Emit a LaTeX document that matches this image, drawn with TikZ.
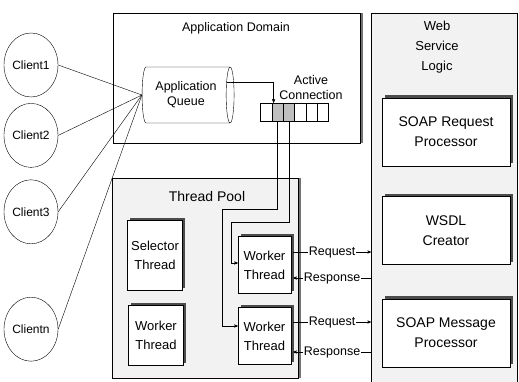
\documentclass[tikz,border=0pt]{standalone}
\usepackage{fontspec}
\setmainfont{Liberation Sans}
\usetikzlibrary{arrows,shapes.geometric,shadows,positioning}

\begin{document}
\begin{tikzpicture}[>=stealth',x=1pt,y=-1pt,
	every node/.style={font=\fontsize{12.5}{15}\selectfont,align=center,inner sep=0pt},
	client/.style={draw,ellipse,minimum width=54pt,minimum height=64pt,font=\fontsize{12}{14}\selectfont},
	area/.style={draw,anchor=north west,fill=white},
	edgeshade/.style={drop shadow={shadow xshift=3pt,shadow yshift=0pt,fill=black!55,opacity=1}},
	thread/.style={draw,fill=white,minimum width=53pt,minimum height=57pt,font=\fontsize{13}{19}\selectfont,
		drop shadow={shadow xshift=2.5pt,shadow yshift=2.5pt,fill=black!70,opacity=1}},
	proc/.style={draw,fill=white,minimum width=128pt,minimum height=68pt,font=\fontsize{14}{20}\selectfont,
		drop shadow={shadow xshift=2.5pt,shadow yshift=2.5pt,fill=black!70,opacity=1}},
	slot/.style={draw,minimum width=11.3pt,minimum height=18pt},
	lbl/.style={fill=white,inner sep=1pt}]

\useasboundingbox (0,0) rectangle (519,382);

\node[area,edgeshade,minimum width=247pt,minimum height=130pt] (appdom) at (113,13) {};
	\node (appdomlbl) at (236,28) {Application Domain};
\node[area,edgeshade,fill=black!5,minimum width=186pt,minimum height=200pt] (pool) at (112,178) {};
	\node (poollbl) at (207,196) [font=\fontsize{14}{17}\selectfont] {Thread Pool};
\node[area,fill=black!5,minimum width=146pt,minimum height=375pt] (wsl) at (371,13) {};
	\node (wsllbl) at (437,47) [font=\fontsize{13}{20}\selectfont] {Web\\Service\\Logic};

\node[client] (c1) at (31,65) {Client1};
 \node[client] (c2) [below=6pt of c1] {Client2};
	\node[client] (c3) [below=12pt of c2] {Client3};
	\node[client] (cn) [below=53pt of c3] {Clientn};

\node[draw,cylinder,shape border rotate=0,shape aspect=0.3,minimum width=56pt,minimum height=92pt,fill=white] (queue) at (186,95) {Application\\Queue};

\node (actlbl) at (311,88) {Active\\Connection};
\foreach \i/\f in {1/white,2/black!25,3/black!25,4/white,5/white,6/white}
	\node[slot,fill=\f] (s\i) at ({255+11.3*\i},112) {};

\node[thread,minimum width=55pt,minimum height=70pt] (sel) at (155,255) {Selector\\Thread};
\node[thread,minimum width=55pt,minimum height=60pt] (wk0) at (156,335) {Worker\\Thread};
	\node[thread] (wk1) at (264.5,265) {Worker\\Thread};
	\node[thread] (wk2) at (264.5,336) {Worker\\Thread};

\node[proc] (soapreq) at (446,132) {SOAP Request\\Processor};
	\node[proc] (wsdl) [below=30pt of soapreq] {WSDL\\Creator};
	\node[proc] (soapmsg) [below=34pt of wsdl] {SOAP Message\\Processor};

\path (c1.east) edge (queue.west)
	(c2.east) edge (queue.west)
	(c3.east) edge (queue.west)
	(cn.east) edge (queue.west);

\coordinate (qout) at ([xshift=-7pt,yshift=13pt]queue.top);
\draw[->] (qout) -| ([xshift=-4pt]s2.north);
\draw[->] (s2.south) -- ++(0,88) -| ([xshift=-16pt,yshift=10pt]wk2.west) -- ([yshift=10pt]wk2.west);
\draw[->] (s3.south) -- ++(0,101) -| ([xshift=-7pt,yshift=2pt]wk1.west) -- ([yshift=2pt]wk1.west);

\coordinate (rq1) at ([xshift=2pt,yshift=13pt]wk1.east);
\coordinate (rs1) at ([xshift=2pt,yshift=-13pt]wk1.east);
\coordinate (rq2) at ([xshift=2pt,yshift=14pt]wk2.east);
\coordinate (rs2) at ([xshift=2pt,yshift=-16pt]wk2.east);
\draw[->] (rq1) -- node[lbl]{Request} (rq1 -| wsl.west);
\draw[->] (rs1 -| wsl.west) -- node[lbl]{Response} (rs1);
\draw[->] (rq2) -- node[lbl]{Request} (rq2 -| wsl.west);
\draw[->] (rs2 -| wsl.west) -- node[lbl]{Response} (rs2);

\end{tikzpicture}
\end{document}
